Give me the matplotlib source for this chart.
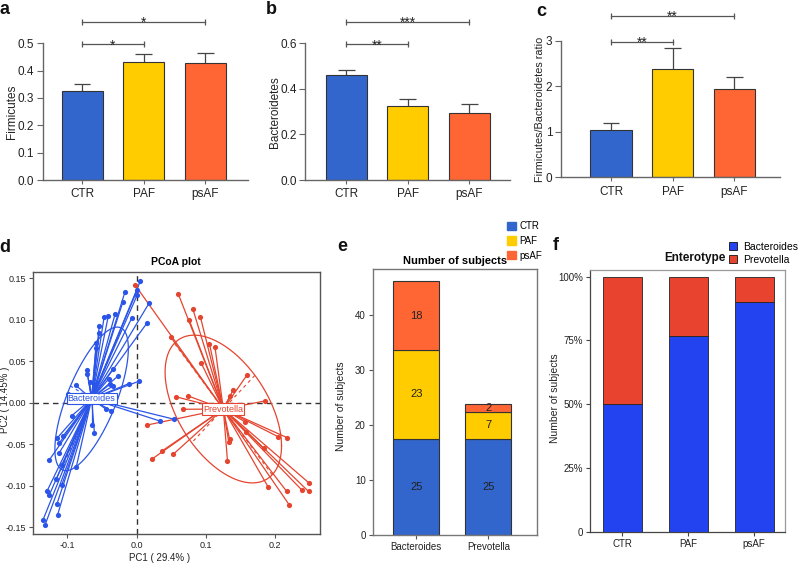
import numpy as np
import matplotlib
matplotlib.use("Agg")
import matplotlib.pyplot as plt
from matplotlib.patches import Patch
from matplotlib.collections import LineCollection

plt.rcParams['font.family'] = ['Liberation Sans', 'DejaVu Sans']

W, H = 800, 565

#############################################
# DATA
#############################################

groups = ['CTR', 'PAF', 'psAF']
group_colors = ['#3366cc', '#ffcc00', '#ff6633']

# panel a-c: mean and upper error
firm_mean = [0.325, 0.430, 0.427]
firm_err = [0.025, 0.030, 0.036]
bact_mean = [0.460, 0.325, 0.295]
bact_err = [0.023, 0.032, 0.037]
ratio_mean = [1.04, 2.37, 1.93]
ratio_err = [0.16, 0.46, 0.27]

# significance brackets: (from, to, height, label)
firm_sig = [(0, 1, 0.497, '*'), (0, 2, 0.579, '*')]
bact_sig = [(0, 1, 0.597, '**'), (0, 2, 0.695, '***')]
ratio_sig = [(0, 1, 2.98, '**'), (0, 2, 3.55, '**')]

# panel d: PCoA coordinates
bac_x = [0.005, 0.001, 0.001, -0.017, -0.020, 0.018, 0.015, -0.007, -0.031, -0.041,
         -0.047, -0.054, -0.054, -0.058, -0.059, -0.072, -0.071, -0.034, -0.027, -0.068,
         -0.058, -0.039, -0.011, 0.004, -0.088, -0.099, -0.044, -0.037, -0.094, -0.065,
         -0.061, 0.033, 0.054, -0.115, -0.106, -0.112, -0.126, -0.112, -0.108, -0.087,
         -0.116, -0.108, -0.129, -0.126, -0.115, -0.114, -0.135, -0.132, -0.040, -0.034]
bac_y = [0.146, 0.136, 0.130, 0.133, 0.121, 0.120, 0.096, 0.102, 0.107, 0.104,
         0.103, 0.092, 0.084, 0.072, 0.066, 0.039, 0.035, 0.041, 0.032, 0.025,
         0.023, 0.022, 0.023, 0.026, 0.021, 0.011, -0.008, -0.010, -0.016, -0.027,
         -0.036, -0.022, -0.020, -0.043, -0.040, -0.049, -0.069, -0.061, -0.075, -0.077,
         -0.092, -0.099, -0.106, -0.111, -0.122, -0.135, -0.141, -0.147, 0.029, 0.020]
pre_x = [-0.0025, 0.060, 0.081, 0.0755, 0.092, 0.049, 0.105, 0.113, 0.093, 0.159,
         0.139, 0.135, 0.185, 0.057, 0.0745, 0.067, 0.015, 0.037, 0.022, 0.053,
         0.134, 0.133, 0.131, 0.158, 0.183, 0.190, 0.204, 0.2165, 0.238, 0.249,
         0.248, 0.2165, 0.220, 0.156]
pre_y = [0.142, 0.131, 0.113, 0.100, 0.103, 0.079, 0.071, 0.067, 0.048, 0.033,
         0.015, 0.008, 0.002, 0.007, 0.008, -0.008, -0.027, -0.058, -0.068, -0.062,
         -0.044, -0.048, -0.070, -0.035, -0.055, -0.102, -0.041, -0.042, -0.105, -0.097,
         -0.107, -0.107, -0.123, -0.023]
# class centres and ellipse (sd x, sd y, correlation)
bac_center = (-0.065, 0.0045)
pre_center = (0.125, -0.0077)
bac_ell = (0.053, 0.0865, 0.70)
pre_ell = (0.084, 0.089, -0.50)

# panel e: stacked bars (bar heights and printed counts)
enterotypes = ['Bacteroides', 'Prevotella']
e_ctr = [17.5, 17.5]
e_paf = [16.1, 4.9]
e_psaf = [12.6, 1.4]
n_ctr = [25, 25]
n_paf = [23, 7]
n_psaf = [18, 2]

# panel f: percentage per group
bacteroides_pct = [50.0, 76.7, 90.0]
prevotella_pct = [50.0, 23.3, 10.0]

#############################################
# HELPERS
#############################################

def rect(l, t, r, b):
    return [l / W, 1 - b / H, (r - l) / W, (b - t) / H]


def bar_panel(fig, box, means, errs, sigs, ylim, yticks, ylabel, xlim, ylab_x, ylab_size=8.5):
    ax = fig.add_axes(rect(*box))
    x = np.arange(1, len(means) + 1)
    ax.bar(x, means, width=0.67, color=group_colors, edgecolor='#333333',
           linewidth=0.8, zorder=2)
    tops = np.array(means) + np.array(errs)
    ax.vlines(x, means, tops, color='#444444', lw=0.9, zorder=1)
    ax.hlines(tops, x - 0.135, x + 0.135, color='#444444', lw=0.9, zorder=1)
    for i, j, y, lab in sigs:
        ax.plot([x[i], x[j]], [y, y], color='#555555', lw=0.9, marker='|',
                markersize=5, markeredgewidth=0.9, clip_on=False)
        ax.annotate(lab, ((x[i] + x[j]) / 2, y), xytext=(0, -4.0),
                    textcoords='offset points', ha='center', va='baseline',
                    fontsize=10, color='#222222', annotation_clip=False)
    ax.set_xlim(*xlim)
    ax.set_ylim(*ylim)
    ax.set_yticks(yticks)
    ax.set_xticks(x)
    ax.set_xticklabels(groups)
    for s in ['top', 'right']:
        ax.spines[s].set_visible(False)
    for s in ['left', 'bottom']:
        ax.spines[s].set_color('#666666')
        ax.spines[s].set_linewidth(1.0)
    ax.tick_params(axis='y', length=4, color='#666666', labelsize=8.5,
                   labelcolor='#222222', pad=2)
    ax.tick_params(axis='x', length=3, color='#666666', labelsize=8.5,
                   labelcolor='#222222', pad=3)
    fig.text(ylab_x / W, 1 - (box[1] + box[3]) / 2 / H, ylabel, rotation=90,
             ha='center', va='center', fontsize=ylab_size, color='#222222')
    return ax


#############################################
# FIGURE
#############################################

fig = plt.figure(figsize=(W / 100, H / 100), dpi=100)

ax_a = bar_panel(fig, (42.7, 43.3, 248, 180), firm_mean, firm_err, firm_sig,
                 (0, 0.5), np.arange(0, 0.51, 0.1), 'Firmicutes', (0.359, 3.692), 11.7)
ax_a.yaxis.set_major_formatter(matplotlib.ticker.FormatStrFormatter('%.1f'))
ax_b = bar_panel(fig, (305, 43.3, 510, 180), bact_mean, bact_err, bact_sig,
                 (0, 0.6), [0, 0.2, 0.4, 0.6], 'Bacteroidetes', (0.331, 3.659), 275)
ax_b.yaxis.set_major_formatter(matplotlib.ticker.FormatStrFormatter('%.1f'))
ax_c = bar_panel(fig, (560.7, 40.7, 780, 177.3), ratio_mean, ratio_err, ratio_sig,
                 (0, 3), [0, 1, 2, 3], 'Firmicutes/Bacteroidetes ratio', (0.185, 3.74),
                 540, ylab_size=7.8)

# ---------------- panel d ----------------
blue_d = '#2b55e8'
red_d = '#e5452f'
ax_d = fig.add_axes(rect(32.7, 272.3, 320, 534.3))
ax_d.axhline(0, color='#333333', lw=1.0, ls=(0, (4, 3)), zorder=1)
ax_d.axvline(0, color='#333333', lw=1.0, ls=(0, (4, 3)), zorder=1)

for xs, ys, c, ell, col, name in [(bac_x, bac_y, bac_center, bac_ell, blue_d, 'Bacteroides'),
                                  (pre_x, pre_y, pre_center, pre_ell, red_d, 'Prevotella')]:
    segs = [[c, (px, py)] for px, py in zip(xs, ys)]
    ax_d.add_collection(LineCollection(segs, colors=col, linewidths=0.9, zorder=2))
    ax_d.scatter(xs, ys, s=14, color=col, zorder=3, linewidths=0)
    sx, sy, rho = ell
    t = np.linspace(0, 2 * np.pi, 300)
    ex = c[0] + sx * np.cos(t)
    ey = c[1] + sy * (rho * np.cos(t) + np.sqrt(1 - rho ** 2) * np.sin(t))
    ax_d.plot(ex, ey, color=col, lw=0.9, zorder=2)
    cov = np.array([[sx ** 2, rho * sx * sy], [rho * sx * sy, sy ** 2]])
    vals, vecs = np.linalg.eigh(cov)
    for k in range(2):
        d = np.sqrt(vals[k]) * vecs[:, k]
        ax_d.plot([c[0] - d[0], c[0] + d[0]], [c[1] - d[1], c[1] + d[1]],
                  color=col, lw=0.8, ls=(0, (3, 3)), zorder=2)
    ax_d.text(c[0], c[1], name, ha='center', va='center', fontsize=6.5, color=col,
              zorder=5, bbox=dict(boxstyle='square,pad=0.12', fc='white', ec=col, lw=0.8))

ax_d.set_xlim(-0.150, 0.2645)
ax_d.set_ylim(-0.1586, 0.157)
ax_d.set_xticks([-0.1, 0.0, 0.1, 0.2])
ax_d.set_xticklabels(['-0.1', '0.0', '0.1', '0.2'])
ax_d.set_yticks([-0.15, -0.10, -0.05, 0.0, 0.05, 0.10, 0.15])
ax_d.set_yticklabels(['-0.15', '-0.10', '-0.05', '0.00', '0.05', '0.10', '0.15'])
for s in ax_d.spines.values():
    s.set_color('#555555')
    s.set_linewidth(1.0)
ax_d.tick_params(length=3, color='#555555', labelsize=6.5, labelcolor='#222222', pad=2)
ax_d.set_title('PCoA plot', fontsize=7.5, fontweight='bold', pad=5)
fig.text(160 / W, 1 - 558 / H, 'PC1 ( 29.4% )', ha='center', va='center', fontsize=7,
         color='#222222')
fig.text(5 / W, 1 - 400 / H, 'PC2 ( 14.45% )', rotation=90, ha='center', va='center',
         fontsize=7, color='#222222')

# ---------------- panel e ----------------
ax_e = fig.add_axes(rect(372.7, 269.3, 536.7, 535))
xe = np.arange(1, len(enterotypes) + 1)
bottom = np.zeros(len(xe))
for h, n, col in [(e_ctr, n_ctr, group_colors[0]), (e_paf, n_paf, group_colors[1]),
                  (e_psaf, n_psaf, group_colors[2])]:
    ax_e.bar(xe, h, bottom=bottom, width=0.64, color=col, edgecolor='#333333', linewidth=0.8)
    for xi, b, hi, ni in zip(xe, bottom, h, n):
        ax_e.text(xi, b + hi / 2, str(ni), ha='center', va='center', fontsize=8,
                  color='#222222')
    bottom = bottom + np.array(h)
ax_e.set_xlim(0.394, 2.672)
ax_e.set_ylim(0, 48.3)
ax_e.set_yticks([0, 10, 20, 30, 40])
ax_e.set_xticks(xe)
ax_e.set_xticklabels(enterotypes)
for s in ax_e.spines.values():
    s.set_color('#777777')
    s.set_linewidth(1.0)
ax_e.tick_params(length=3, color='#555555', labelsize=7, labelcolor='#222222', pad=2)
ax_e.set_title('Number of subjects', fontsize=8, fontweight='bold', pad=4)
fig.text(341 / W, 1 - 406 / H, 'Number of subjects', rotation=90, ha='center',
         va='center', fontsize=7.5, color='#222222')
ax_e.legend(handles=[Patch(color=c, label=g) for c, g in zip(group_colors, groups)],
            loc='upper left', bbox_to_anchor=(507 / W, 1 - 221 / H),
            bbox_transform=fig.transFigure, frameon=False, fontsize=7,
            handlelength=0.9, handleheight=0.9, handletextpad=0.4,
            labelspacing=0.5, borderpad=0, borderaxespad=0)

# ---------------- panel f ----------------
blue_f = '#2443f0'
red_f = '#e8432f'
ax_f = fig.add_axes(rect(590, 270, 785, 531.7))
xf = np.arange(1, len(groups) + 1)
ax_f.bar(xf, bacteroides_pct, width=0.59, color=blue_f, edgecolor='#222222', linewidth=0.6)
ax_f.bar(xf, prevotella_pct, bottom=bacteroides_pct, width=0.59, color=red_f,
         edgecolor='#222222', linewidth=0.6)
ax_f.set_xlim(0.512, 3.467)
ax_f.set_ylim(0, 102.6)
ax_f.set_yticks([0, 25, 50, 75, 100])
ax_f.set_yticklabels(['0', '25%', '50%', '75%', '100%'])
ax_f.set_xticks(xf)
ax_f.set_xticklabels(groups)
for s in ax_f.spines.values():
    s.set_color('#999999')
    s.set_linewidth(0.9)
ax_f.spines['left'].set_color('#444444')
ax_f.spines['bottom'].set_color('#444444')
ax_f.tick_params(length=3, color='#444444', labelsize=7, labelcolor='#222222', pad=2)
fig.text(695 / W, 1 - 258 / H, 'Enterotype', ha='center', va='center', fontsize=8.5,
         fontweight='bold', color='#111111')
fig.text(555 / W, 1 - 398 / H, 'Number of subjects', rotation=90, ha='center',
         va='center', fontsize=7.5, color='#222222')
ax_f.legend(handles=[Patch(facecolor=blue_f, edgecolor='#111111', lw=0.6, label='Bacteroides'),
                     Patch(facecolor=red_f, edgecolor='#111111', lw=0.6, label='Prevotella')],
            loc='upper left', bbox_to_anchor=(729 / W, 1 - 242 / H),
            bbox_transform=fig.transFigure, frameon=False, fontsize=7.5,
            handlelength=0.8, handleheight=0.8, handletextpad=0.6,
            labelspacing=0.25, borderpad=0, borderaxespad=0)

# panel letters
for lab, px, py in [('a', 4, 9), ('b', 271, 9), ('c', 541, 11),
                    ('d', 5, 248), ('e', 342, 247), ('f', 556, 246)]:
    fig.text(px / W, 1 - py / H, lab, ha='center', va='center', fontsize=13,
             fontweight='bold', color='#111111')

fig.savefig('out.png', dpi=100)
